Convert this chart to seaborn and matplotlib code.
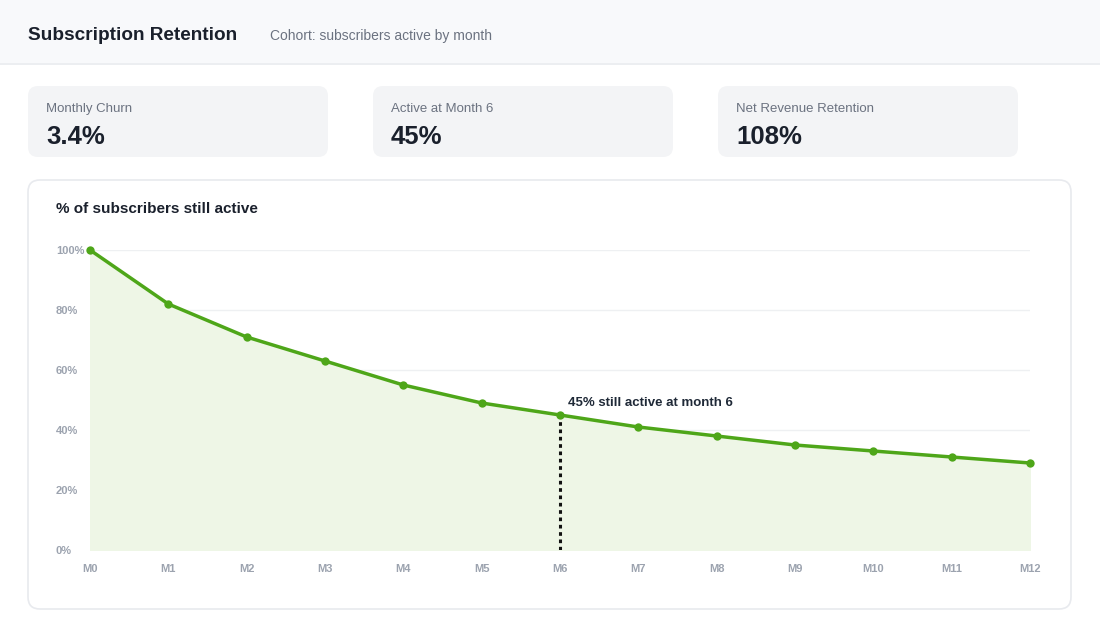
import numpy as np
import pandas as pd
import matplotlib
matplotlib.use("Agg")
import matplotlib.pyplot as plt
from matplotlib.patches import FancyBboxPatch, Rectangle
import seaborn as sns

months = ["M0", "M1", "M2", "M3", "M4", "M5", "M6", "M7", "M8", "M9", "M10", "M11", "M12"]
active_pct = [100, 82, 71, 63, 55, 49, 45, 41, 38, 35, 33, 31, 29]
kpi_labels = ["Monthly Churn", "Active at Month 6", "Net Revenue Retention"]
kpi_values = ["3.4%", "45%", "108%"]
y_ticks = [0, 20, 40, 60, 80, 100]
marker_month = 6

sns.set_theme(style="white")
plt.rcParams['font.family'] = ['Liberation Sans', 'DejaVu Sans']

W, H = 1100, 640
fig = plt.figure(figsize=(11, 6.4), dpi=100)
fig.patch.set_facecolor("white")

def px(x, y):
    # top-left pixel coords -> figure fraction
    return x / W, 1 - y / H

def box(x0, y0, x1, y1, fc, ec="none", r=10, lw=1.0):
    p = FancyBboxPatch((x0, H - y1), x1 - x0, y1 - y0,
                       boxstyle="round,pad=0,rounding_size=%d" % r,
                       fc=fc, ec=ec, lw=lw, transform=None, zorder=-2)
    fig.patches.append(p)

# header band
fig.patches.append(Rectangle((0, H - 63), W, 63, fc="#f8f9fb", ec="none", transform=None, zorder=-2))
fig.patches.append(Rectangle((0, H - 65), W, 2, fc="#eceef1", ec="none", transform=None, zorder=-2))
fig.text(*px(28, 35), "Subscription Retention", fontsize=13.7, fontweight="bold",
         color="#1a202c", va="center")
fig.text(*px(270, 36), "Cohort: subscribers active by month", fontsize=10,
         color="#6b7280", va="center")

# KPI cards
for i, (lab, val) in enumerate(zip(kpi_labels, kpi_values)):
    x0 = 28 + i * 345
    box(x0, 86, x0 + 300, 157, "#f3f4f6", r=10)
    fig.text(*px(x0 + 18, 109), lab, fontsize=9.5, color="#6b7280", va="center")
    fig.text(*px(x0 + 18, 137), val, fontsize=18.5, fontweight="bold", color="#1a202c", va="center")

# chart card
box(28, 180, 1071, 609, "white", ec="#e8eaee", r=12, lw=1.2)
fig.text(*px(56, 209), "% of subscribers still active", fontsize=11, fontweight="bold",
         color="#1a202c", va="center")

df = pd.DataFrame({"month": np.arange(len(months)), "active": active_pct})

l, b = px(90, 550)
r, t = px(1030, 250)
ax = fig.add_axes([l, b, r - l, t - b])
ax.set_zorder(5)
ax.set_facecolor("none")

ax.fill_between(df["month"], df["active"], 0, color="#eef6e6", zorder=1)
for yt in y_ticks:
    ax.axhline(yt, color="#eef0f2", lw=1, zorder=0.5)
ax.plot([marker_month, marker_month], [0, active_pct[marker_month]], color="#111111",
        lw=2.2, ls=(0, (1.2, 1.2)), zorder=3)
sns.lineplot(data=df, x="month", y="active", ax=ax, color="#4ea619", lw=2.5,
             marker="o", markersize=6, markeredgewidth=0, zorder=4, clip_on=False)

ax.text(marker_month + 0.1, active_pct[marker_month] + 2, "45% still active at month 6",
        fontsize=9.5, fontweight="bold", color="#1f2937", va="bottom", ha="left")

ax.set_xlim(0, len(months) - 1)
ax.set_ylim(0, 100)
ax.set_xticks(df["month"])
ax.set_xticklabels(months)
ax.set_yticks(y_ticks)
ax.set_yticklabels([f"{v}%" for v in y_ticks])
ax.set_xlabel("")
ax.set_ylabel("")
for s in ax.spines.values():
    s.set_visible(False)
ax.tick_params(axis="both", length=0, labelsize=8, labelcolor="#9ca3af")
ax.tick_params(axis="x", pad=10)
ax.tick_params(axis="y", pad=24.5)
for lbl in ax.get_xticklabels():
    lbl.set_fontweight("bold")
for lbl in ax.get_yticklabels():
    lbl.set_fontweight("bold")
    lbl.set_horizontalalignment("left")

fig.savefig("out.png", dpi=100, facecolor="white")
